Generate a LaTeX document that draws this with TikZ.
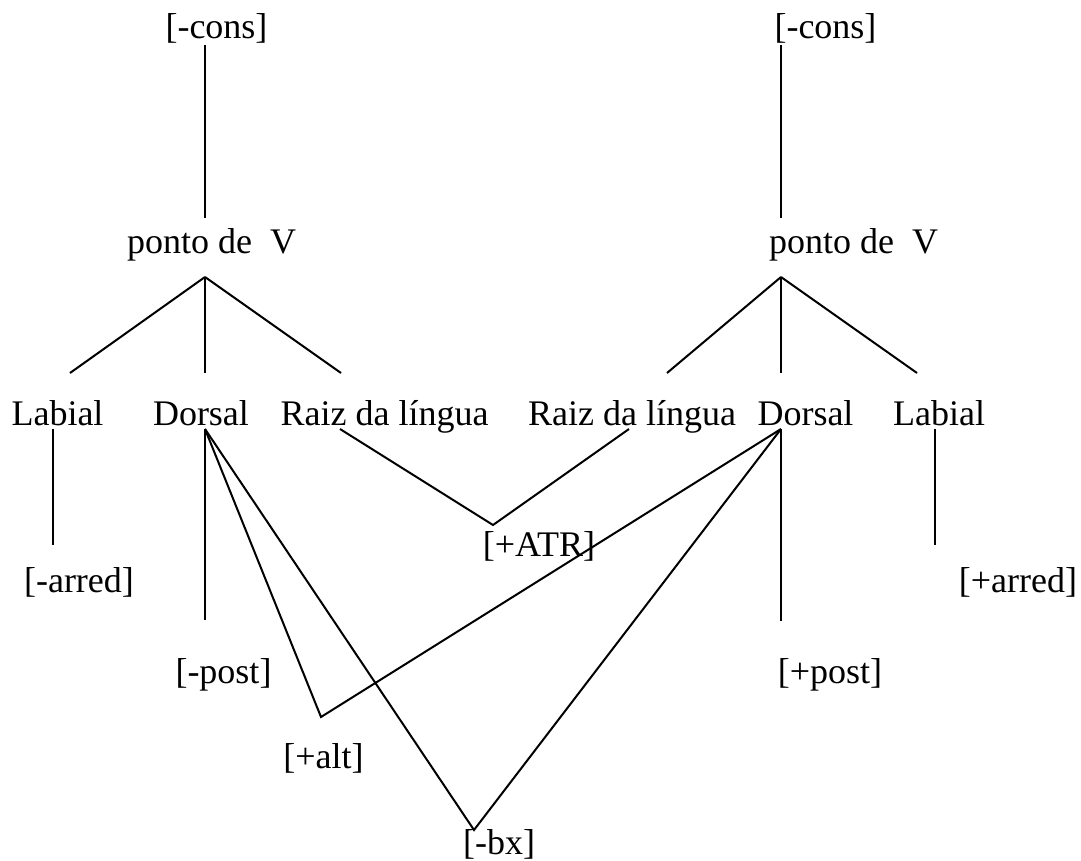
\documentclass[tikz,border=0pt]{standalone}
\usepackage{fontspec}
\setmainfont{Liberation Serif}

\begin{document}
\begin{tikzpicture}[x=1pt, y=-1pt, line width=2pt,
                    font=\fontsize{36}{43}\selectfont]
  \tikzset{feat/.style={inner sep=0pt, anchor=base}}
  \useasboundingbox (0,0) rectangle (1081,861);
  % Left tree: labels
  \node[feat] (lcons) at (216.5,39) {[-cons]};
  \node[feat] (lpv)   at (211.5,253) {ponto de\ \ V};
  \node[feat] (llab)  at (57.5,425) {Labial};
  \node[feat] (ldor)  at (201,425) {Dorsal};
  \node[feat] (lraiz) at (384.5,425) {Raiz da língua};
  \node[feat] (larr)  at (79,592) {[-arred]};
  \node[feat] (lpost) at (223.5,683) {[-post]};
  % Right tree: labels
  \node[feat] (rcons) at (825.5,39) {[-cons]};
  \node[feat] (rpv)   at (853.5,253) {ponto de\ \ V};
  \node[feat] (rraiz) at (632,425) {Raiz da língua};
  \node[feat] (rdor)  at (805.5,425) {Dorsal};
  \node[feat] (rlab)  at (939,425) {Labial};
  \node[feat] (rarr)  at (1018,592) {[+arred]};
  \node[feat] (rpost) at (830,683) {[+post]};
  % Shared features
  \node[feat] (atr) at (539,556) {[+ATR]};
  \node[feat] (alt) at (323.5,768) {[+alt]};
  \node[feat] (bx)  at (499,854) {[-bx]};
  % Attachment points of the lines
  \coordinate (lcons-b) at (205,45);   \coordinate (lpv-t) at (205,218);
  \coordinate (rcons-b) at (781,45);   \coordinate (rpv-t) at (781,218);
  \coordinate (lpv-b)   at (205,277);  \coordinate (rpv-b) at (781,277);
  \coordinate (llab-t)  at (70,373);   \coordinate (rraiz-t) at (667,373);
  \coordinate (ldor-t)  at (205,373);  \coordinate (rdor-t)  at (781,373);
  \coordinate (lraiz-t) at (341,373);  \coordinate (rlab-t)  at (917,373);
  \coordinate (llab-b)  at (53,429);   \coordinate (larr-t)  at (53,545);
  \coordinate (rlab-b)  at (935,429);  \coordinate (rarr-t)  at (935,545);
  \coordinate (ldor-b)  at (205,429);  \coordinate (lpost-t) at (205,620);
  \coordinate (rdor-b)  at (781,429);  \coordinate (rpost-t) at (781,621);
  \coordinate (lraiz-b) at (340,429);  \coordinate (rraiz-b) at (629,429);
  \coordinate (atr-t)   at (493,525);
  \coordinate (alt-t)   at (321,717);
  \coordinate (bx-t)    at (474,830);
  % Stems and branches
  \draw (lcons-b) -- (lpv-t);
  \draw (rcons-b) -- (rpv-t);
  \foreach \s in {llab, ldor, lraiz} {
    \draw (lpv-b) -- (\s-t);
  }
  \foreach \s in {rraiz, rdor, rlab} {
    \draw (rpv-b) -- (\s-t);
  }
  \draw (llab-b) -- (larr-t);
  \draw (rlab-b) -- (rarr-t);
  \draw (ldor-b) -- (lpost-t);
  \draw (rdor-b) -- (rpost-t);
  % Shared features linked to both trees
  \draw (lraiz-b) -- (atr-t) -- (rraiz-b);
  \draw (ldor-b) -- (alt-t) -- (rdor-b);
  \draw (ldor-b) -- (bx-t) -- (rdor-b);
\end{tikzpicture}
\end{document}
